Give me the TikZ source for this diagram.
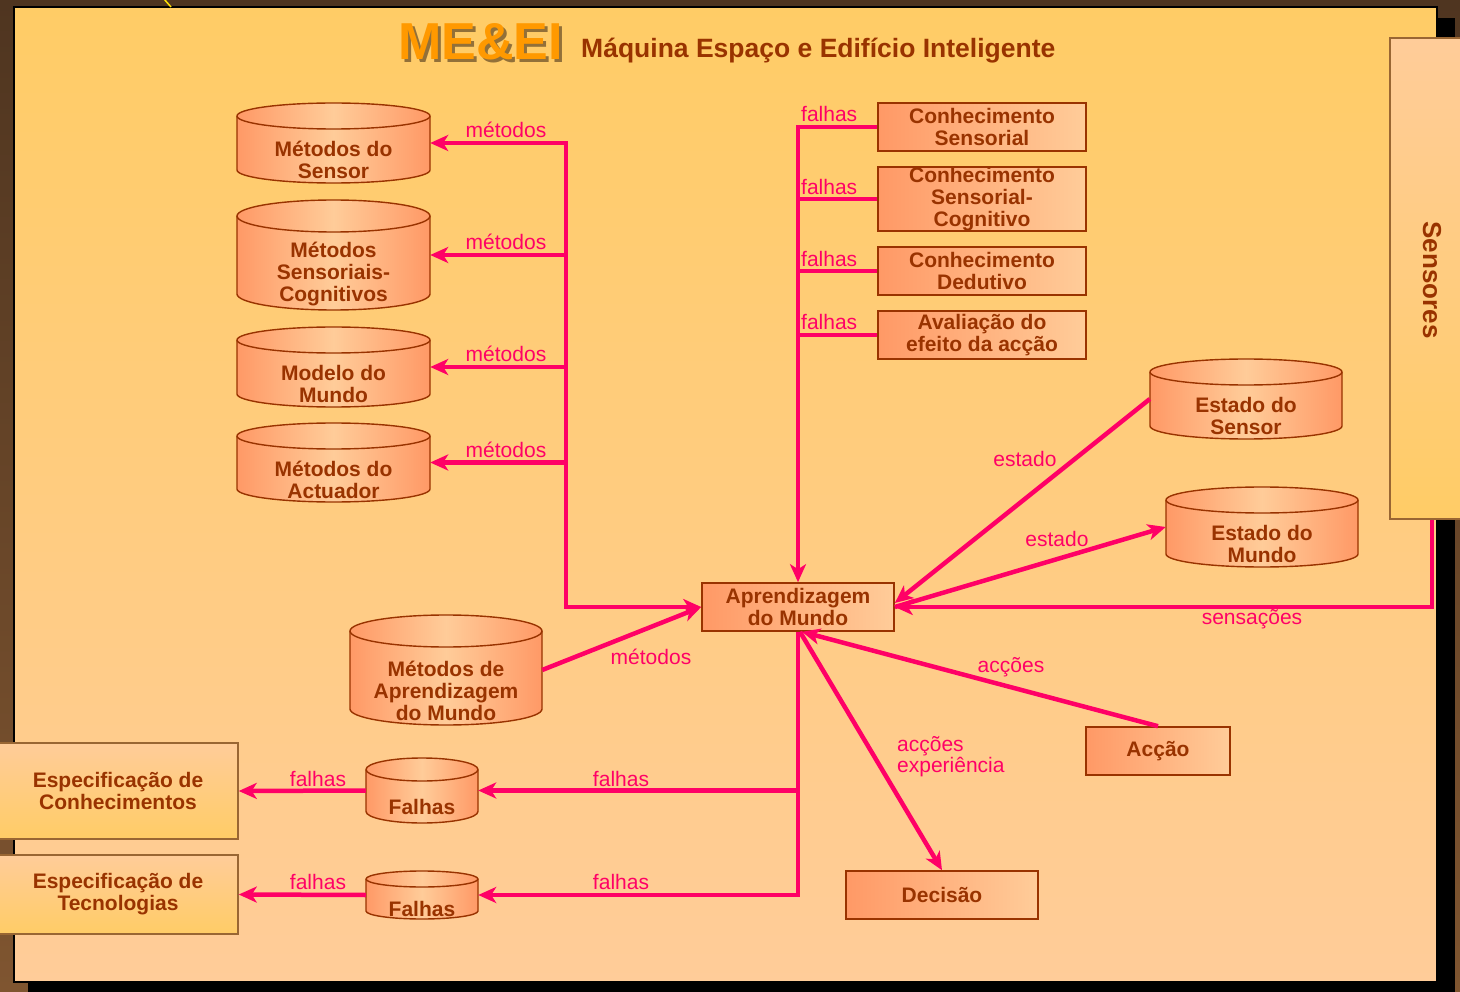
\documentclass[tikz,border=0pt]{standalone}
\usepackage{fontspec}
\setmainfont{Liberation Sans}
\usetikzlibrary{arrows.meta}

\definecolor{pinkline}{HTML}{FF0066}
\definecolor{darktxt}{HTML}{993300}
\definecolor{boxlo}{HTML}{FF9966}
\definecolor{boxhi}{HTML}{FFCC99}
\definecolor{panelhi}{HTML}{FFCC66}
\definecolor{frametop}{HTML}{4F3520}
\definecolor{framebot}{HTML}{7F5530}
\definecolor{sideedge}{HTML}{996633}
\definecolor{brandorange}{HTML}{FF9900}

\tikzset{
  nodetext/.style={text=darktxt, font=\bfseries\fontsize{21}{22}\selectfont, align=center, inner sep=0pt},
  knbox/.style={draw=darktxt, line width=1.6pt, left color=boxlo, right color=boxhi, nodetext},
  sidebox/.style={draw=sideedge, line width=1.5pt, top color=boxhi, bottom color=panelhi, nodetext},
  drumbody/.style={left color=boxlo, right color=boxlo, middle color=boxhi},
  drumline/.style={draw=darktxt, line width=1.4pt},
  conn/.style={draw=pinkline, line width=4.5pt},
  tip/.style={-{Stealth[length=18pt,width=16pt,inset=5pt]}},
  twotip/.style={{Stealth[length=18pt,width=16pt,inset=5pt]}-{Stealth[length=18pt,width=16pt,inset=5pt]}},
  lbl/.style={text=pinkline, font=\fontsize{21}{21}\selectfont, inner sep=0pt},
}

% storage drum: name, left x, right x, top y, bottom y, rim radius, text, text centre y
\newcommand\drum[8]{%
  \pgfmathsetmacro\drumcx{(#2+#3)/2}%
  \pgfmathsetmacro\drumhw{(#3-#2)/2}%
  \pgfmathsetmacro\drumyt{-(#4)-(#6)}%
  \pgfmathsetmacro\drumyb{-(#5)+(#6)}%
  \shadedraw[drumbody, drumline] (#2,\drumyt) -- (#2,\drumyb)
     arc[start angle=180, end angle=360, x radius=\drumhw, y radius=#6]
     -- (#3,\drumyt)
     arc[start angle=0, end angle=180, x radius=\drumhw, y radius=#6] -- cycle;
  \draw[drumline] (#3,\drumyt) arc[start angle=0, end angle=-180, x radius=\drumhw, y radius=#6];
  \node[minimum width={#3-#2}, minimum height={#5-#4}, inner sep=0pt] (#1) at (\drumcx,{-(#4+#5)/2}) {};
  \node[nodetext] (#1-t) at (\drumcx,{-(#8)}) {#7};
}

\begin{document}
\begin{tikzpicture}[x=1pt, y=1pt]
\useasboundingbox (0,0) rectangle (1460,-992);

% frame, drop shadow and panel
\shade[top color=frametop, bottom color=framebot] (0,0) rectangle (1460,-992);
\fill[black] (28,-18) rectangle (1455,-996);
\shadedraw[top color=panelhi, bottom color=boxhi, draw=black, line width=1.5pt] (14,-7) rectangle (1437,-982);
\draw[yellow!85!orange, line width=1.5pt] (164,1) -- (171,-7);

% title, with its drop shadow
\node[anchor=base west, inner sep=0pt, text=black!70!brown, opacity=0.55,
      font=\bfseries\fontsize{52}{52}\selectfont] (brandshade) at (401,-63) {ME\&EI};
\node[anchor=base west, inner sep=0pt, text=brandorange,
      font=\bfseries\fontsize{52}{52}\selectfont] (brand) at (398,-60) {ME\&EI};
\node[anchor=base west, inner sep=0pt, text=darktxt,
      font=\bfseries\fontsize{26.5}{26.5}\selectfont] (subtitle) at (581,-58) {Máquina Espaço e Edifício Inteligente};

% method stores
\drum{ms}{237}{430}{103}{183}{13}{Métodos do\\Sensor}{160}
\drum{msc}{237}{430}{200}{310}{16}{Métodos\\Sensoriais-\\Cognitivos}{274}
\drum{mm}{237}{430}{327}{407}{13}{Modelo do\\Mundo}{384}
\drum{ma}{237}{430}{423}{502}{13}{Métodos do\\Actuador}{480}
\drum{mam}{350}{542}{615}{725}{16}{Métodos de\\Aprendizagem\\do Mundo}{691}

% state stores
\drum{es}{1150}{1342}{359}{439}{13}{Estado do\\Sensor}{416}
\drum{em}{1166}{1358}{487}{567}{13}{Estado do\\Mundo}{544}

% fault stores
\drum{fa1}{366}{478}{758}{823}{11.5}{Falhas}{807}
\drum{fa2}{366}{478}{871}{919}{8}{Falhas}{909}

% knowledge boxes
\node[knbox, minimum width=208, minimum height=48] (cs)  at (982,-127) {Conhecimento\\Sensorial};
\node[knbox, minimum width=208, minimum height=64] (csc) at (982,-199) {Conhecimento\\Sensorial-\\Cognitivo};
\node[knbox, minimum width=208, minimum height=48] (cd)  at (982,-271) {Conhecimento\\Dedutivo};
\node[knbox, minimum width=208, minimum height=48] (av)  at (982,-335) {Avaliação do\\efeito da acção};

\node[knbox, minimum width=192, minimum height=48] (am)  at (798,-607) {Aprendizagem\\do Mundo};
\node[knbox, minimum width=144, minimum height=48] (ac)  at (1158,-751) {Acção};
\node[knbox, minimum width=192, minimum height=48] (dec) at (942,-895) {Decisão};

% side boxes
\node[sidebox, minimum width=84, minimum height=481] (sens) at (1432,-278.5) {};
\node[nodetext, font=\bfseries\fontsize{26}{26}\selectfont, rotate=-90] (senst) at (1432,-280) {Sensores};
\node[sidebox, minimum width=240, minimum height=96] (spk) at (118,-791) {Especificação de\\Conhecimentos};
\node[sidebox, minimum width=240, minimum height=79] (spt) at (118,-894.5) {Especificação de\\Tecnologias};

% methods feeding the learner
\coordinate (mtop) at (566,-143);
\draw[conn, twotip] (ms.east) -- (mtop) |- (am.west);
\draw[conn, tip] (msc.east -| mtop) -- (msc.east);
\draw[conn, tip] (mm.east -| mtop) -- (mm.east);
\draw[conn, tip] (ma.east -| mtop) -- (ma.east);
\draw[conn, tip] (mam.east) -- (am.west);

% faults from the knowledge boxes
\draw[conn, tip] (cs.west) -| (am.north);
\draw[conn] (csc.west) -- (csc.west -| am.north);
\draw[conn] (cd.west) -- (cd.west -| am.north);
\draw[conn] (av.west) -- (av.west -| am.north);

% sensor side
\draw[conn, tip] (sens.south) |- (am.east);
\draw[conn, tip] (es.west) -- ([yshift=4pt]am.east);
\draw[conn, tip] (am.east) -- (em.west);

% actions and decisions
\draw[conn, tip] (ac.north) -- ([xshift=4pt]am.south);
\draw[conn, tip] ([xshift=2pt]am.south) -- (dec.north);

% fault outputs
\draw[conn, tip] (am.south) |- (fa2.east);
\draw[conn, tip] (fa1.east -| am.south) -- (fa1.east);
\draw[conn, tip] (fa1.west) -- (spk.east);
\draw[conn, tip] (fa2.west) -- (spt.east);

% connector labels
\node[lbl] (l1) at (506,-130) {métodos};
\node[lbl] (l2) at (506,-242) {métodos};
\node[lbl] (l3) at (506,-354) {métodos};
\node[lbl] (l4) at (506,-450) {métodos};
\node[lbl] (l5) at (651,-657) {métodos};
\node[lbl, anchor=west] (f1) at (801,-114) {falhas};
\node[lbl, anchor=west] (f2) at (801,-187) {falhas};
\node[lbl, anchor=west] (f3) at (801,-259) {falhas};
\node[lbl, anchor=west] (f4) at (801,-322) {falhas};
\node[lbl] (e1) at (1025,-459) {estado};
\node[lbl] (e2) at (1057,-539) {estado};
\node[lbl] (s1) at (1252,-619) {sensações};
\node[lbl] (a1) at (1011,-667) {acções};
\node[lbl, anchor=west, align=left] (a2) at (897,-757) {acções\\experiência};
\node[lbl] (f5) at (621,-779) {falhas};
\node[lbl] (f6) at (621,-882) {falhas};
\node[lbl] (f7) at (318,-779) {falhas};
\node[lbl] (f8) at (318,-882) {falhas};
\end{tikzpicture}
\end{document}
